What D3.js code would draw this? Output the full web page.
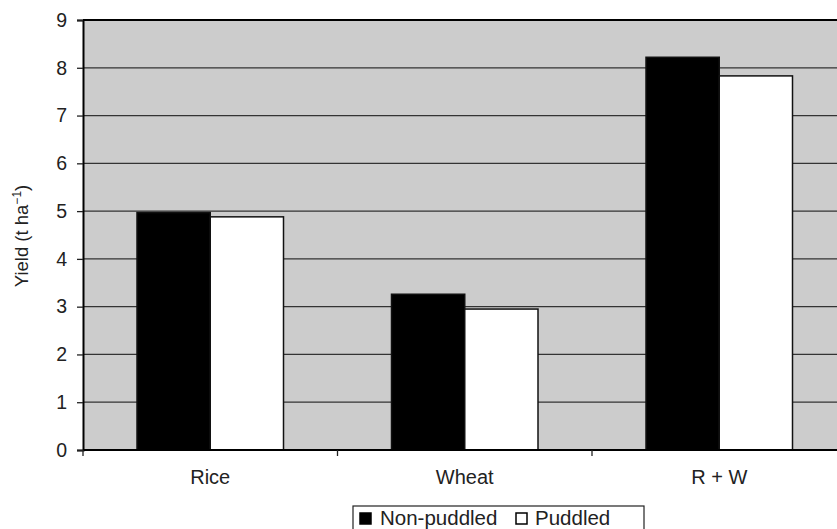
<!DOCTYPE html>
<html>
<head>
<meta charset="utf-8">
<script src="https://cdn.jsdelivr.net/npm/d3@7"></script>
<style>
  body { margin: 0; background: #fff; }
  svg { display: block; font-family: "Liberation Sans", Arial, sans-serif; }
  .grid line { stroke: #333; stroke-width: 1.3; }
</style>
</head>
<body>
<div class="chart"></div>
<script>
const categories = ["Rice", "Wheat", "R + W"]
const series = ["Non-puddled", "Puddled"]
const nonPuddled = [4.97, 3.26, 8.22]
const puddled = [4.88, 2.95, 7.83]
const yTicks = [0, 1, 2, 3, 4, 5, 6, 7, 8, 9]

const width = 837, height = 529
const margin = { top: 20, left: 83, bottom: 79 }
const plotW = 763.5
const plotH = height - margin.top - margin.bottom

const svg = d3.select(".chart").append("svg")
    .attr("width", width)
    .attr("height", height)

const g = svg.append("g")
    .attr("transform", `translate(${margin.left},${margin.top})`)

const x = d3.scaleBand()
    .domain(categories)
    .range([0, plotW])

const x1 = d3.scaleBand()
    .domain(series)
    .range([54, x.bandwidth() - 54])

const y = d3.scaleLinear()
    .domain([0, 9])
    .range([plotH, 0])

const colour = d3.scaleOrdinal().domain(series).range(["#000", "#fff"])

// plot background
g.append("rect")
    .attr("width", plotW)
    .attr("height", plotH)
    .style("fill", "#cccccc")

// gridlines
g.append("g").classed("grid", true)
    .selectAll("line")
    .data(yTicks.filter(d => d > 0 && d < 9))
    .enter()
    .append("line")
    .attr("x1", 0)
    .attr("x2", plotW)
    .attr("y1", d => y(d))
    .attr("y2", d => y(d))

// top border
g.append("line")
    .attr("x1", 0).attr("x2", plotW)
    .attr("y1", y(9)).attr("y2", y(9))
    .style("stroke", "#000").style("stroke-width", 2)

const rows = categories.map((c, i) => ({ cat: c, values: [nonPuddled[i], puddled[i]] }))

const groups = g.append("g")
    .selectAll("g")
    .data(rows)
    .enter()
    .append("g")
    .attr("transform", d => `translate(${x(d.cat)},0)`)

groups.selectAll("rect")
    .data(d => d.values.map((v, j) => ({ s: series[j], v: v })))
    .enter()
    .append("rect")
    .attr("x", d => x1(d.s))
    .attr("width", x1.bandwidth())
    .attr("y", d => y(d.v))
    .attr("height", d => y(0) - y(d.v))
    .style("fill", d => colour(d.s))
    .style("stroke", "#111")
    .style("stroke-width", 1.5)

// y axis
const yAxis = d3.axisLeft(y).tickValues(yTicks).tickSize(6).tickPadding(10)
const yAxisEl = g.append("g").call(yAxis)
yAxisEl.attr("font-size", null).attr("font-family", null)
yAxisEl.select(".domain").attr("stroke", "#000").attr("stroke-width", 2)
yAxisEl.selectAll(".tick line").attr("stroke", "#222").attr("stroke-width", 1.3)
yAxisEl.selectAll(".tick text").style("font-size", "19.5px").style("fill", "#222")

// x axis
const xAxisEl = g.append("g").attr("transform", `translate(0,${plotH})`)
xAxisEl.append("line")
    .attr("x1", 0).attr("x2", plotW)
    .style("stroke", "#000").style("stroke-width", 2)
xAxisEl.selectAll(".xtick")
    .data(d3.range(categories.length + 1))
    .enter()
    .append("line")
    .attr("x1", i => i * x.bandwidth())
    .attr("x2", i => i * x.bandwidth())
    .attr("y1", 0).attr("y2", 6)
    .style("stroke", "#222").style("stroke-width", 1.3)
xAxisEl.selectAll(".xlabel")
    .data(categories)
    .enter()
    .append("text")
    .text(d => d)
    .attr("x", d => x(d) + x.bandwidth() / 2)
    .attr("y", 34)
    .style("text-anchor", "middle")
    .style("font-size", "20px")
    .style("fill", "#222")

// y axis title
const title = svg.append("text")
    .attr("transform", "translate(28,236) rotate(-90)")
    .style("text-anchor", "middle")
    .style("font-size", "18.5px")
    .style("fill", "#222")
title.append("tspan").text("Yield (t ha")
title.append("tspan").text("\u22121").attr("dy", -7).style("font-size", "12px")
title.append("tspan").text(")").attr("dy", 7)

// legend
const legend = svg.append("g").attr("transform", "translate(353,506)")
legend.append("rect")
    .attr("width", 291).attr("height", 30)
    .style("fill", "#fff").style("stroke", "#222").style("stroke-width", 1.2)
const legendItems = [
    { s: series[0], sq: 7, tx: 27 },
    { s: series[1], sq: 163, tx: 182 }
]
legendItems.forEach(it => {
    legend.append("rect")
        .attr("x", it.sq).attr("y", 7)
        .attr("width", 11).attr("height", 11)
        .style("fill", colour(it.s))
        .style("stroke", "#000").style("stroke-width", 1.5)
    legend.append("text")
        .text(it.s)
        .attr("x", it.tx).attr("y", 18.5)
        .style("font-size", "20.5px")
        .style("fill", "#222")
})
</script>
</body>
</html>
